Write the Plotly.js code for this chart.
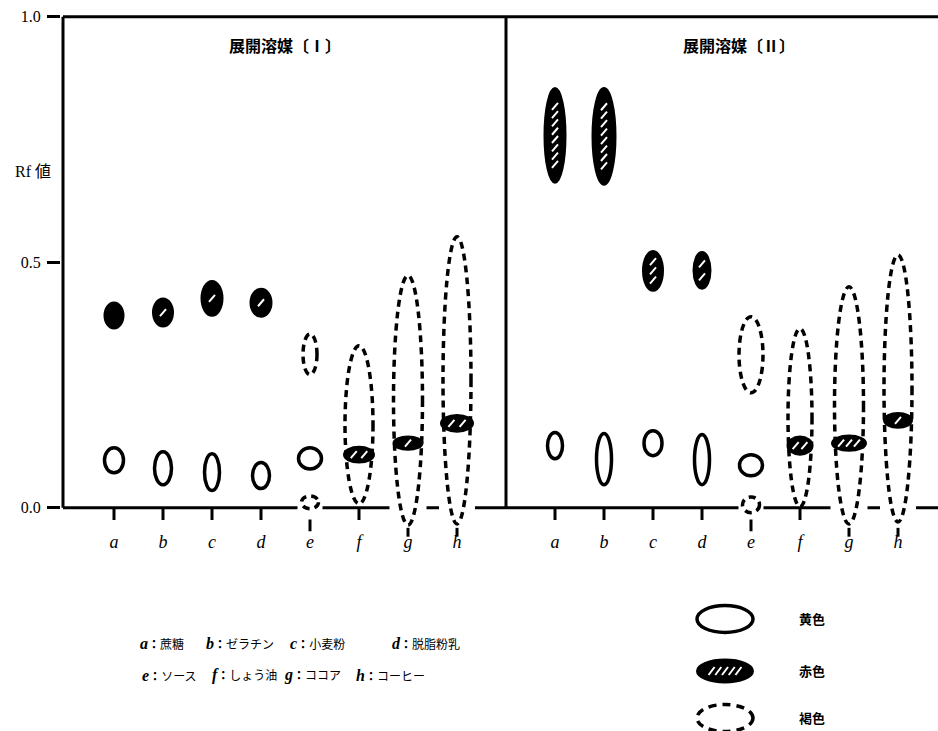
<!DOCTYPE html>
<html>
<head>
<meta charset="utf-8">
<script src="https://cdn.plot.ly/plotly-3.0.1.min.js"></script>
<style>html,body{margin:0;padding:0;background:#fff;}#chart{width:938px;height:731px;}</style>
</head>
<body>
<div id="chart"></div>
<script>
// ---------- DATA ----------
const lanes = ['a','b','c','d','e','f','g','h'];
const sampleNames = ['蔗糖','ゼラチン','小麦粉','脱脂粉乳','ソース','しょう油','ココア','コーヒー'];
const panelTitles = ['展開溶媒〔Ⅰ〕','展開溶媒〔Ⅱ〕'];
const rfTicks = [0, 0.5, 1.0];
const rfTickText = ['0.0','0.5','1.0'];
const colorKeyNames = ['黄色','赤色','褐色'];

// Solvent I : Rf range (low, high) of each spot per lane
const yellowI_low  = [0.071, 0.047, 0.035, 0.039, 0.079, null, null, null];
const yellowI_high = [0.122, 0.114, 0.110, 0.092, 0.122, null, null, null];
const redI_low     = [0.365, 0.369, 0.391, 0.389, null, 0.092, 0.118, 0.155];
const redI_high    = [0.418, 0.426, 0.462, 0.446, null, 0.124, 0.145, 0.189];
const brownI_low   = [null, null, null, null, 0.271, 0.008, -0.035, -0.033];
const brownI_high  = [null, null, null, null, 0.354, 0.330, 0.473, 0.552];
const brownI0_low  = [null, null, null, null, -0.002, null, null, null];
const brownI0_high = [null, null, null, null, 0.024, null, null, null];

// Solvent II
const yellowII_low  = [0.100, 0.047, 0.106, 0.047, 0.065, null, null, null];
const yellowII_high = [0.153, 0.151, 0.157, 0.149, 0.108, null, null, null];
const redII_low     = [0.662, 0.658, 0.442, 0.446, null, 0.108, 0.116, 0.163];
const redII_high    = [0.855, 0.855, 0.523, 0.521, null, 0.145, 0.147, 0.193];
const brownII_low   = [null, null, null, null, 0.234, 0.002, -0.033, -0.029];
const brownII_high  = [null, null, null, null, 0.389, 0.365, 0.450, 0.515];
const brownII0_low  = [null, null, null, null, -0.010, null, null, null];
const brownII0_high = [null, null, null, null, 0.022, null, null, null];

// ---------- STYLE (drawn widths in px, hatch counts) ----------
const yellowI_w  = [19, 17, 15, 17, 23, 0, 0, 0];
const redI_w     = [19, 20, 21, 21, 0, 30, 29, 32];
const brownI_w   = [0, 0, 0, 0, 14, 28, 29, 28];
const yellowII_w = [15, 15, 18, 15, 23, 0, 0, 0];
const redII_w    = [21, 23, 20, 17, 0, 25, 34, 28];
const brownII_w  = [0, 0, 0, 0, 24, 24, 29, 28];
const origin_w   = 17;
const redI_hatch  = [0, 1, 1, 1, 0, 2, 1, 2];
const redII_hatch = [8, 8, 3, 2, 0, 2, 3, 1];

// ---------- GEOMETRY ----------
const W = 938, H = 731;
const ML = 61, MT = 7, MB = 184, MR = 0;
const PX = 49;                      // px per lane unit
const xStart = 1 + (ML - 114) / PX;
const xEnd = xStart + (W - ML - MR) / PX;
const yLo = -0.08, yHi = 1.02;
const plotH = H - MT - MB;
const pxPerRf = plotH / (yHi - yLo);
const spineX = 1 + (63 - 114) / PX;
const dividerX = 9;
function laneX(panel, i) { return panel === 0 ? i + 1 : i + 10; }
function pX(px) { return (px - ML) / (W - ML - MR); }
function pY(py) { return (H - MB - py) / plotH; }

const shapes = [];
const blk = 'black';
function L(x0, y0, x1, y1, w, color, dash) {
  shapes.push({type:'line', xref:'x', yref:'y', x0, y0, x1, y1,
    line:{color: color || blk, width: w || 3, dash: dash || 'solid'}});
}
// frame
L(spineX, 1, xEnd, 1, 3);
L(spineX, 0, xEnd, 0, 3);
L(spineX, 0, spineX, 1, 3);
L(dividerX, 0, dividerX, 1, 3);

const panels = [
  {yl: yellowI_low, yh: yellowI_high, yw: yellowI_w, rl: redI_low, rh: redI_high, rw: redI_w, rn: redI_hatch,
   bl: brownI_low, bh: brownI_high, bw: brownI_w, ol: brownI0_low, oh: brownI0_high},
  {yl: yellowII_low, yh: yellowII_high, yw: yellowII_w, rl: redII_low, rh: redII_high, rw: redII_w, rn: redII_hatch,
   bl: brownII_low, bh: brownII_high, bw: brownII_w, ol: brownII0_low, oh: brownII0_high}
];

function ellipse(xc, wpx, lo, hi, kind) {
  const s = {type:'circle', xref:'x', yref:'y', x0: xc - wpx/2/PX, x1: xc + wpx/2/PX, y0: lo, y1: hi};
  if (kind === 'yellow') { s.line = {color: blk, width: 3.5}; s.fillcolor = 'white'; }
  else if (kind === 'red') { s.line = {color: blk, width: 2}; s.fillcolor = 'black'; }
  else { s.line = {color: blk, width: 3.5, dash: '7px,5px'}; s.fillcolor = 'rgba(0,0,0,0)'; }
  shapes.push(s);
}
function hatches(xc, wpx, lo, hi, n) {
  const hpx = (hi - lo) * pxPerRf;
  for (let k = 0; k < n; k++) {
    let cx = xc, cy = (lo + hi) / 2;
    const f = n === 1 ? 0 : (-0.35 + 0.7 * (k + 0.5) / n);
    if (hpx >= wpx) cy = (lo + hi) / 2 + f * (hi - lo);
    else cx = xc + f * wpx / PX;
    L(cx - 3/PX, cy - 3.5/pxPerRf, cx + 3/PX, cy + 3.5/pxPerRf, 2, 'white');
  }
}

// x ticks + baseline gaps
panels.forEach((P, pi) => {
  lanes.forEach((ln, i) => {
    const x = laneX(pi, i);
    const hasOrigin = P.ol[i] !== null;
    const below = P.bl[i] !== null && P.bl[i] < 0;
    if (hasOrigin || below) {
      const wpx = hasOrigin ? origin_w : P.bw[i];
      L(x - (wpx/2 + 4)/PX, 0, x + (wpx/2 + 4)/PX, 0, 6, 'white');
      if (hasOrigin) L(x, -0.024, x, -0.048, 3);
      else L(x, -0.041, x, -0.059, 3);
    } else {
      L(x, 0, x, -0.025, 3);
    }
  });
});

// spots
panels.forEach((P, pi) => {
  lanes.forEach((ln, i) => {
    const x = laneX(pi, i);
    if (P.bl[i] !== null) ellipse(x, P.bw[i], P.bl[i], P.bh[i], 'brown');
    if (P.ol[i] !== null) ellipse(x, origin_w, P.ol[i], P.oh[i], 'brown');
    if (P.yl[i] !== null) ellipse(x, P.yw[i], P.yl[i], P.yh[i], 'yellow');
  });
  lanes.forEach((ln, i) => {
    const x = laneX(pi, i);
    if (P.rl[i] !== null) {
      ellipse(x, P.rw[i], P.rl[i], P.rh[i], 'red');
      hatches(x, P.rw[i], P.rl[i], P.rh[i], P.rn[i]);
    }
  });
});

// colour key (paper coordinates)
function keyEllipse(cx, cy, w, h, kind, nh) {
  const s = {type:'circle', xref:'paper', yref:'paper', x0: pX(cx - w/2), x1: pX(cx + w/2), y0: pY(cy + h/2), y1: pY(cy - h/2)};
  if (kind === 'yellow') { s.line = {color: blk, width: 3.5}; s.fillcolor = 'white'; }
  else if (kind === 'red') { s.line = {color: blk, width: 2}; s.fillcolor = 'black'; }
  else { s.line = {color: blk, width: 3.5, dash: '8px,6px'}; s.fillcolor = 'rgba(0,0,0,0)'; }
  shapes.push(s);
  for (let k = 0; k < (nh || 0); k++) {
    const hx = cx - w*0.3 + w*0.6*(k + 0.5)/nh;
    shapes.push({type:'line', xref:'paper', yref:'paper', x0: pX(hx - 3), x1: pX(hx + 3), y0: pY(cy + 4), y1: pY(cy - 4),
      line:{color:'white', width:2}});
  }
}
const keyKinds = ['yellow','red','brown'];
const keyY = [619, 671, 718];
keyKinds.forEach((k, j) => keyEllipse(725, keyY[j], 56, k === 'red' ? 23 : 27, k, k === 'red' ? 5 : 0));

// ---------- ANNOTATIONS ----------
const annotations = [];
panelTitles.forEach((t, j) => annotations.push({
  xref:'paper', yref:'paper', x: pX(j === 0 ? 285 : 739), y: pY(45), xanchor:'center', yanchor:'middle',
  text: t, showarrow:false, font:{family:'Noto Sans CJK JP', size:16, color:'black', weight:600}
}));
annotations.push({xref:'paper', yref:'paper', x: pX(33), y: pY(171), xanchor:'center', yanchor:'middle',
  text:'<span style="font-family:Liberation Serif">Rf</span> 値', showarrow:false,
  font:{family:'Liberation Serif, Noto Sans CJK JP', size:16, color:'black'}});
colorKeyNames.forEach((t, j) => annotations.push({
  xref:'paper', yref:'paper', x: pX(797), y: pY(keyY[j] - 1), xanchor:'left', yanchor:'middle',
  text: t, showarrow:false, font:{family:'Noto Sans CJK JP', size:13, color:'black', weight:700}
}));
const sampleLeft = [140, 206, 290, 392, 142, 212, 284, 356];
lanes.forEach((ln, i) => annotations.push({
  xref:'paper', yref:'paper', x: pX(sampleLeft[i] - 2), y: pY(i < 4 ? 643 : 675), xanchor:'left', yanchor:'middle',
  text: '<span style="font-family:Liberation Serif;font-size:16px"><b><i>' + ln + '</i></b></span>' +
        '<b>：</b>' + sampleNames[i],
  showarrow:false, font:{family:'Noto Sans CJK JP', size:12, color:'black'}
}));

// ---------- LAYOUT ----------
const tickvals = [], ticktext = [];
[0, 1].forEach(pi => lanes.forEach((ln, i) => { tickvals.push(laneX(pi, i)); ticktext.push('<i>' + ln + '</i>'); }));

const layout = {
  width: W, height: H,
  margin: {l: ML, r: MR, t: MT, b: MB, pad: 0},
  paper_bgcolor: 'white', plot_bgcolor: 'white',
  showlegend: false,
  font: {family: 'Noto Sans CJK JP', color: 'black'},
  xaxis: {range: [xStart, xEnd], anchor: 'free', position: (0 - yLo) / (yHi - yLo),
    showline: false, showgrid: false, zeroline: false, ticks: '',
    tickmode: 'array', tickvals: tickvals, ticktext: ticktext, ticklabelstandoff: 21,
    tickfont: {family: 'Liberation Serif', size: 18, color: 'black'}, fixedrange: true},
  yaxis: {range: [yLo, yHi], showline: false, showgrid: false, zeroline: false,
    tickmode: 'array', tickvals: rfTicks, ticktext: rfTickText,
    ticks: 'outside', ticklen: 13, tickwidth: 3, tickcolor: 'black', ticklabelstandoff: 3,
    tickfont: {family: 'Liberation Serif', size: 16, color: 'black'}, fixedrange: true},
  shapes: shapes,
  annotations: annotations
};

Plotly.newPlot('chart', [{type:'scatter', x: [], y: [], mode: 'markers', hoverinfo: 'skip'}], layout,
  {displayModeBar: false, staticPlot: true});
</script>
</body>
</html>
